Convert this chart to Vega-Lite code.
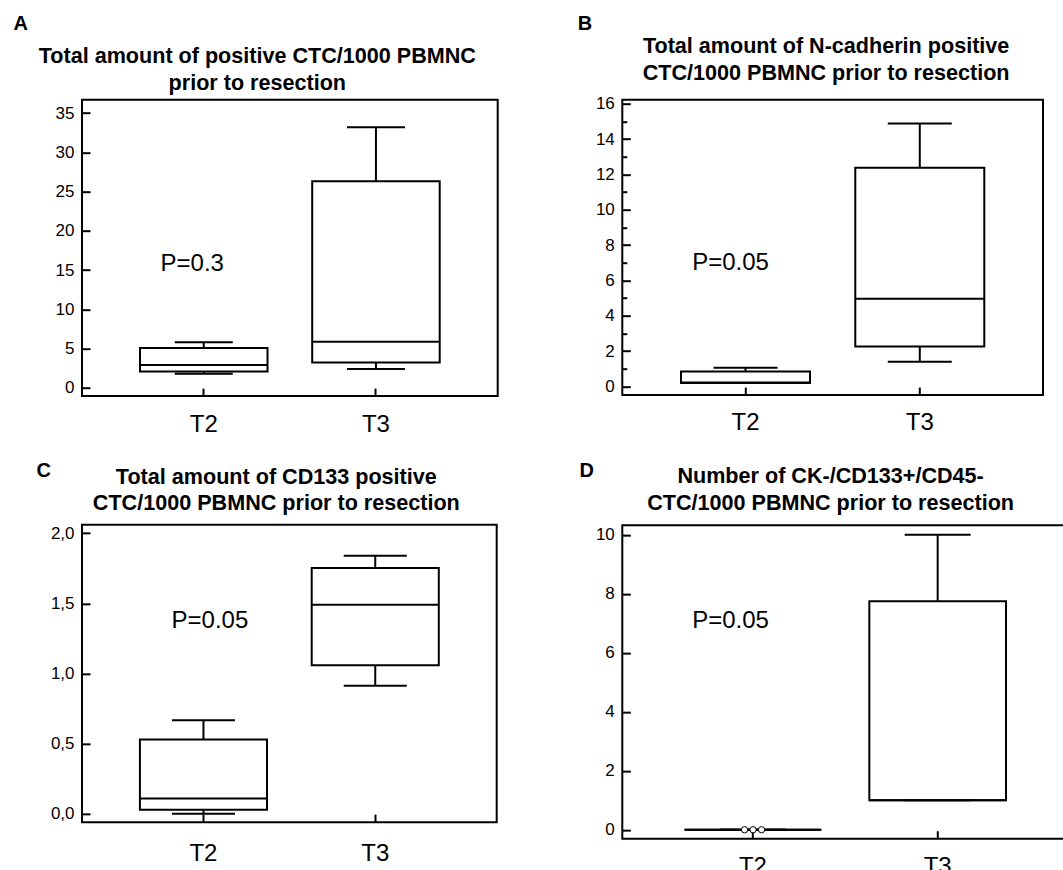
{
  "$schema": "https://vega.github.io/schema/vega-lite/v6.json",
  "background": "white",
  "padding": {"left": 12, "top": 11.7, "right": 0, "bottom": 0},
  "autosize": {"type": "pad"},
  "datasets": {
    "boxes": [
      {"panel": "A", "group": "T2", "lo": 1.78, "q1": 2.08, "med": 2.88, "q3": 5.05, "hi": 5.8},
      {"panel": "A", "group": "T3", "lo": 2.37, "q1": 3.22, "med": 5.86, "q3": 26.3, "hi": 33.2},
      {"panel": "B", "group": "T2", "lo": 0.2, "q1": 0.2, "med": 0.22, "q3": 0.85, "hi": 1.06},
      {"panel": "B", "group": "T3", "lo": 1.4, "q1": 2.26, "med": 4.96, "q3": 12.38, "hi": 14.88},
      {"panel": "C", "group": "T2", "lo": 0.0, "q1": 0.029, "med": 0.109, "q3": 0.53, "hi": 0.668},
      {"panel": "C", "group": "T3", "lo": 0.914, "q1": 1.06, "med": 1.49, "q3": 1.753, "hi": 1.84},
      {"panel": "D", "group": "T2", "lo": 0, "q1": 0, "med": 0, "q3": 0, "hi": 0},
      {"panel": "D", "group": "T3", "lo": 1, "q1": 1, "med": 1, "q3": 7.75, "hi": 10}
    ],
    "outliers": [
      {"panel": "D", "group": "T2", "k": "1", "value": 0},
      {"panel": "D", "group": "T2", "k": "2", "value": 0},
      {"panel": "D", "group": "T2", "k": "3", "value": 0}
    ],
    "pvals": [
      {"panel": "A", "group": "T2", "label": "P=0.3"},
      {"panel": "B", "group": "T2", "label": "P=0.05"},
      {"panel": "C", "group": "T2", "label": "P=0.05"},
      {"panel": "D", "group": "T2", "label": "P=0.05"}
    ]
  },
  "columns": 2,
  "align": "none",
  "spacing": 77.3,
  "bounds": "full",
  "concat": [
    {
      "concat": [
        {
          "width": 415.7, "height": 296.4,
          "encoding": {"x": {"field": "group", "type": "nominal", "scale": {"type": "band", "paddingInner": 0.26, "paddingOuter": 0.337},
            "axis": {"labelPadding": 24.5, "title": ["Total amount of positive CTC/1000 PBMNC", "prior to resection"], "titleX": 174.8, "titleY": -333.4}}},
          "layer": [
            {"data": {"name": "boxes"}, "transform": [{"filter": "datum.panel === 'A'"}],
             "mark": {"type": "rule", "color": "black", "strokeWidth": 2},
             "encoding": {"y": {"field": "lo", "type": "quantitative", "title": "A", "scale": {"domain": [-1.07, 36.71], "nice": false, "zero": false},
               "axis": {"title": "A", "titleX": -69, "titleY": -70.3, "labelOverlap": false, "values": [0, 5, 10, 15, 20, 25, 30, 35]}}, "y2": {"field": "hi"}}},
            {"data": {"name": "boxes"}, "transform": [{"filter": "datum.panel === 'A'"}],
             "mark": {"type": "bar", "size": 127.5, "fill": "white", "stroke": "black", "strokeWidth": 2},
             "encoding": {"y": {"field": "q1", "type": "quantitative", "title": "A"}, "y2": {"field": "q3"}}},
            {"data": {"name": "boxes"}, "transform": [{"filter": "datum.panel === 'A'"}],
             "mark": {"type": "tick", "size": 58, "thickness": 2, "color": "black", "opacity": 1},
             "encoding": {"y": {"field": "lo", "type": "quantitative", "title": "A"}}},
            {"data": {"name": "boxes"}, "transform": [{"filter": "datum.panel === 'A'"}],
             "mark": {"type": "tick", "size": 58, "thickness": 2, "color": "black", "opacity": 1},
             "encoding": {"y": {"field": "hi", "type": "quantitative", "title": "A"}}},
            {"data": {"name": "boxes"}, "transform": [{"filter": "datum.panel === 'A'"}],
             "mark": {"type": "bar", "size": 127.5, "fill": null, "stroke": "black", "strokeWidth": 2},
             "encoding": {"y": {"field": "med", "type": "quantitative", "title": "A"}, "y2": {"field": "med"}}},
            {"data": {"name": "pvals"}, "transform": [{"filter": "datum.panel === 'A'"}],
             "mark": {"type": "text", "fontSize": 24, "dx": -11.5, "align": "center", "baseline": "alphabetic", "color": "black"},
             "encoding": {"y": {"datum": 14.86, "type": "quantitative", "title": "A"}, "text": {"field": "label"}}}
          ]
        },
        {
          "width": 414.7, "height": 297.3,
          "encoding": {"x": {"field": "group", "type": "nominal", "scale": {"type": "band", "paddingInner": 0.26, "paddingOuter": 0.337},
            "axis": {"labelPadding": 27.25, "title": ["Total amount of CD133 positive", "CTC/1000 PBMNC prior to resection"], "titleX": 193.8, "titleY": -339}}},
          "layer": [
            {"data": {"name": "boxes"}, "transform": [{"filter": "datum.panel === 'C'"}],
             "mark": {"type": "rule", "color": "black", "strokeWidth": 2},
             "encoding": {"y": {"field": "lo", "type": "quantitative", "title": "C", "scale": {"domain": [-0.059, 2.06], "nice": false, "zero": false},
               "axis": {"title": "C", "titleX": -46, "titleY": -48.3, "labelOverlap": false, "values": [0, 0.5, 1, 1.5, 2], "labelExpr": "replace(format(datum.value, '.1f'), '.', ',')"}}, "y2": {"field": "hi"}}},
            {"data": {"name": "boxes"}, "transform": [{"filter": "datum.panel === 'C'"}],
             "mark": {"type": "bar", "size": 127.1, "fill": "white", "stroke": "black", "strokeWidth": 2},
             "encoding": {"y": {"field": "q1", "type": "quantitative", "title": "C"}, "y2": {"field": "q3"}}},
            {"data": {"name": "boxes"}, "transform": [{"filter": "datum.panel === 'C'"}],
             "mark": {"type": "tick", "size": 63, "thickness": 2, "color": "black", "opacity": 1},
             "encoding": {"y": {"field": "lo", "type": "quantitative", "title": "C"}}},
            {"data": {"name": "boxes"}, "transform": [{"filter": "datum.panel === 'C'"}],
             "mark": {"type": "tick", "size": 63, "thickness": 2, "color": "black", "opacity": 1},
             "encoding": {"y": {"field": "hi", "type": "quantitative", "title": "C"}}},
            {"data": {"name": "boxes"}, "transform": [{"filter": "datum.panel === 'C'"}],
             "mark": {"type": "bar", "size": 127.1, "fill": null, "stroke": "black", "strokeWidth": 2},
             "encoding": {"y": {"field": "med", "type": "quantitative", "title": "C"}, "y2": {"field": "med"}}},
            {"data": {"name": "pvals"}, "transform": [{"filter": "datum.panel === 'C'"}],
             "mark": {"type": "text", "fontSize": 24, "dx": 6.5, "align": "center", "baseline": "alphabetic", "color": "black"},
             "encoding": {"y": {"datum": 1.323, "type": "quantitative", "title": "C"}, "text": {"field": "label"}}}
          ]
        }
      ],
      "columns": 1,
      "align": {"row": "none", "column": "each"},
      "spacing": 21.15
    },
    {
      "concat": [
        {
          "width": 420.7, "height": 295.4,
          "resolve": {"axis": {"y": "independent"}},
          "encoding": {"x": {"field": "group", "type": "nominal", "scale": {"type": "band", "paddingInner": 0.26, "paddingOuter": 0.337},
            "axis": {"labelPadding": 23.85, "title": ["Total amount of N-cadherin positive", "CTC/1000 PBMNC prior to resection"], "titleX": 203.3, "titleY": -342.4}}},
          "layer": [
            {"data": {"name": "boxes"}, "transform": [{"filter": "datum.panel === 'B'"}],
             "mark": {"type": "rule", "color": "black", "strokeWidth": 2},
             "encoding": {"y": {"field": "lo", "type": "quantitative", "title": "B", "scale": {"domain": [-0.49, 16.23], "nice": false, "zero": false},
               "axis": {"orient": "left", "title": "B", "titleX": -45, "titleY": -70.3, "labelOverlap": false, "values": [0, 2, 4, 6, 8, 10, 12, 14, 16]}}, "y2": {"field": "hi"}}},
            {"data": {"name": "boxes"}, "transform": [{"filter": "datum.panel === 'B'"}],
             "mark": {"type": "bar", "size": 129, "fill": "white", "stroke": "black", "strokeWidth": 2},
             "encoding": {"y": {"field": "q1", "type": "quantitative", "axis": null}, "y2": {"field": "q3"}}},
            {"data": {"name": "boxes"}, "transform": [{"filter": "datum.panel === 'B'"}],
             "mark": {"type": "tick", "size": 64, "thickness": 2, "color": "black", "opacity": 1},
             "encoding": {"y": {"field": "lo", "type": "quantitative", "axis": null}}},
            {"data": {"name": "boxes"}, "transform": [{"filter": "datum.panel === 'B'"}],
             "mark": {"type": "tick", "size": 64, "thickness": 2, "color": "black", "opacity": 1},
             "encoding": {"y": {"field": "hi", "type": "quantitative", "axis": null}}},
            {"data": {"name": "boxes"}, "transform": [{"filter": "datum.panel === 'B'"}],
             "mark": {"type": "bar", "size": 129, "fill": null, "stroke": "black", "strokeWidth": 2},
             "encoding": {"y": {"field": "med", "type": "quantitative", "axis": null}, "y2": {"field": "med"}}},
            {"data": {"name": "pvals"}, "transform": [{"filter": "datum.panel === 'B'"}],
             "mark": {"type": "text", "fontSize": 24, "dx": -14.9, "align": "center", "baseline": "alphabetic", "color": "black"},
             "encoding": {"y": {"datum": 6.58, "type": "quantitative",
               "axis": {"orient": "left", "title": null, "labels": false, "tickSize": -4.5, "values": [1, 3, 5, 7, 9, 11, 13, 15]}}, "text": {"field": "label"}}}
          ]
        },
        {
          "width": 446, "height": 313.6,
          "encoding": {"x": {"field": "group", "type": "nominal", "scale": {"type": "band", "paddingInner": 0.26, "paddingOuter": 0.337},
            "axis": {"labelPadding": 23.6, "title": ["Number of CK-/CD133+/CD45-", "CTC/1000 PBMNC prior to resection"], "titleX": 207.8, "titleY": -356}}},
          "layer": [
            {"data": {"name": "boxes"}, "transform": [{"filter": "datum.panel === 'D'"}],
             "mark": {"type": "rule", "color": "black", "strokeWidth": 2},
             "encoding": {"y": {"field": "lo", "type": "quantitative", "title": "D", "scale": {"domain": [-0.305, 10.33], "nice": false, "zero": false},
               "axis": {"title": "D", "titleX": -43.3, "titleY": -49, "labelOverlap": false, "values": [0, 1, 2, 3, 4, 5, 6, 7, 8, 9, 10],
                 "labelExpr": "datum.value % 2 === 0 ? datum.label : ''",
                 "tickSize": {"condition": {"test": "datum.value % 2 !== 0", "value": -4.5}, "value": -8}}}, "y2": {"field": "hi"}}},
            {"data": {"name": "boxes"}, "transform": [{"filter": "datum.panel === 'D'"}],
             "mark": {"type": "bar", "size": 136.7, "fill": "white", "stroke": "black", "strokeWidth": 2},
             "encoding": {"y": {"field": "q1", "type": "quantitative", "title": "D"}, "y2": {"field": "q3"}}},
            {"data": {"name": "boxes"}, "transform": [{"filter": "datum.panel === 'D'"}],
             "mark": {"type": "tick", "size": 66, "thickness": 2, "color": "black", "opacity": 1},
             "encoding": {"y": {"field": "lo", "type": "quantitative", "title": "D"}}},
            {"data": {"name": "boxes"}, "transform": [{"filter": "datum.panel === 'D'"}],
             "mark": {"type": "tick", "size": 66, "thickness": 2, "color": "black", "opacity": 1},
             "encoding": {"y": {"field": "hi", "type": "quantitative", "title": "D"}}},
            {"data": {"name": "boxes"}, "transform": [{"filter": "datum.panel === 'D'"}],
             "mark": {"type": "bar", "size": 136.7, "fill": null, "stroke": "black", "strokeWidth": 2},
             "encoding": {"y": {"field": "med", "type": "quantitative", "title": "D"}, "y2": {"field": "med"}}},
            {"data": {"name": "outliers"},
             "mark": {"type": "point", "shape": "circle", "filled": true, "fill": "white", "stroke": "black", "strokeWidth": 1, "size": 40, "opacity": 1},
             "encoding": {"y": {"field": "value", "type": "quantitative", "title": "D"},
               "xOffset": {"field": "k", "type": "nominal", "scale": {"type": "point", "range": [60, 77], "padding": 0}}}},
            {"data": {"name": "pvals"}, "transform": [{"filter": "datum.panel === 'D'"}],
             "mark": {"type": "text", "fontSize": 24, "dx": -22.3, "align": "center", "baseline": "alphabetic", "color": "black"},
             "encoding": {"y": {"datum": 6.85, "type": "quantitative", "title": "D"}, "text": {"field": "label"}}}
          ]
        }
      ],
      "columns": 1,
      "align": {"row": "none", "column": "each"},
      "spacing": 22.45
    }
  ],
  "config": {
    "font": "Liberation Sans, Arial, sans-serif",
    "view": {"stroke": "black", "strokeWidth": 2},
    "axis": {"grid": false, "domain": false, "tickColor": "black", "tickWidth": 2, "tickSize": -8,
      "labelColor": "black", "titleColor": "black", "labelOverlap": false,
      "labelFont": "Liberation Sans, Arial, sans-serif", "titleFont": "Liberation Sans, Arial, sans-serif"},
    "axisX": {"labelFontSize": 24, "labelAngle": 0, "titleFontSize": 21.6, "titleFontWeight": "bold", "titleLineHeight": 26.5,
      "titleAlign": "center", "titleBaseline": "alphabetic", "titleAngle": 0},
    "axisY": {"labelFontSize": 17, "labelPadding": 16, "titleFontSize": 20, "titleFontWeight": "bold", "titleAngle": 0,
      "titleAlign": "left", "titleBaseline": "alphabetic"},
    "text": {"font": "Liberation Sans, Arial, sans-serif"}
  }
}
